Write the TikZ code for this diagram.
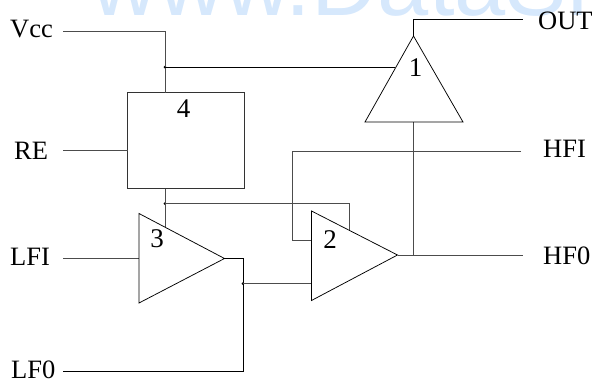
\documentclass[tikz,border=0pt]{standalone}
\usepackage{fontspec}
\setmainfont{Liberation Serif}
\newfontfamily\wmfont{Liberation Sans}
\definecolor{wmblue}{HTML}{D6E8FC}
\tikzset{
  x=1pt,y=-1pt,
  wire/.style={line width=0.9pt,draw=black!70},
  blackwire/.style={line width=0.75pt,draw=black},
  amp/.style={line width=0.75pt,draw=black,line join=miter},
  junction/.style={circle,fill=black,inner sep=0pt,minimum size=3pt},
  pinlabel/.style={font=\fontsize{26.5}{28}\selectfont,inner sep=0pt,anchor=base west},
  numlabel/.style={font=\fontsize{27}{28}\selectfont,inner sep=0pt,anchor=base},
  blockbox/.style={draw=black!80,line width=0.85pt,fill=white,inner sep=0pt,minimum width=116.5pt,minimum height=96pt}
}
\begin{document}
\begin{tikzpicture}
\useasboundingbox (0,0) rectangle (595,383);
% watermark
\begin{scope}
\clip (0,0) rectangle (595,15);
\node[font=\wmfont\fontsize{92}{92}\selectfont,text=wmblue,inner sep=0pt,anchor=base west] (wm) at (91.5,15) {www.DataSheet};
\end{scope}
% pins
\node[pinlabel] (vcc) at (10,37.5) {Vcc};
\node[pinlabel] (re) at (14,159) {RE};
\node[pinlabel] (lfi) at (10,265.5) {LFI};
\node[pinlabel] (lfo) at (11,378) {LF0};
\node[pinlabel] (out) at (538,29.3) {OUT};
\node[pinlabel] (hfi) at (543,157) {HFI};
\node[pinlabel] (hfo) at (543,264) {HF0};
% free ends
\coordinate (vccE) at (63,31);
\coordinate (reE) at (63,150.5);
\coordinate (lfiE) at (63,258.5);
\coordinate (lfoE) at (63,371.5);
\coordinate (outE) at (523,19.5);
\coordinate (hfiE) at (521,151);
\coordinate (hfoE) at (523,255);
% block 4
\node[blockbox] (b4) at (185.75,140.5) {};
\node[numlabel] (n4) at (183.5,117) {4};
% amp vertices
\coordinate (a1t) at (413.5,36);
\coordinate (a1l) at (365,122);
\coordinate (a1r) at (463,122);
\coordinate (a1b) at (413.5,122);
\coordinate (a1s) at (395,67);
\coordinate (a2a) at (311.5,211);
\coordinate (a2b) at (311.5,300.5);
\coordinate (a2o) at (397.5,255);
\coordinate (a2h) at (311.5,240.5);
\coordinate (a2l) at (311.5,283.5);
\coordinate (a2s) at (349.5,231);
\coordinate (a3a) at (139,213.5);
\coordinate (a3b) at (139,303);
\coordinate (a3o) at (224.5,258.5);
\coordinate (a3i) at (139,258.5);
\coordinate (a3s) at (165,226.5);
% junctions
\node[junction] (j1) at (165,67) {};
\node[junction] (j2) at (165,203.5) {};
\node[junction] (j3) at (243,283.5) {};
\coordinate (b4t) at (165,92.5);
\coordinate (b4b) at (165,188.5);
\coordinate (b4l) at (127.5,150.5);
% connectors
\draw[wire] (vccE) -| (b4t);
\draw[blackwire] (j1.center) -- (a1s);
\draw[wire] (reE) -- (b4l);
\draw[wire] (b4b) -- (a3s);
\draw[wire] (j2.center) -| (a2s);
\draw[blackwire] (a1t) |- (outE);
\draw[wire] (a1b) -- (413.5,255);
\draw[wire] (hfiE) -| (292,240.5) -- (a2h);
\draw[wire] (a2o) -- (hfoE);
\draw[wire] (lfiE) -- (a3i);
\draw[blackwire] (a3o) -| (243,371.5) -- (lfoE);
\draw[wire] (j3.center) -- (a2l);
% amps
\draw[amp] (a1t) -- (a1r) -- (a1l) -- cycle;
\draw[amp] (a2a) -- (a2o) -- (a2b) -- cycle;
\draw[amp] (a3a) -- (a3o) -- (a3b) -- cycle;
\node[numlabel] (n1) at (415.5,76) {1};
\node[numlabel] (n2) at (330,248.5) {2};
\node[numlabel] (n3) at (157,247) {3};
\end{tikzpicture}
\end{document}
